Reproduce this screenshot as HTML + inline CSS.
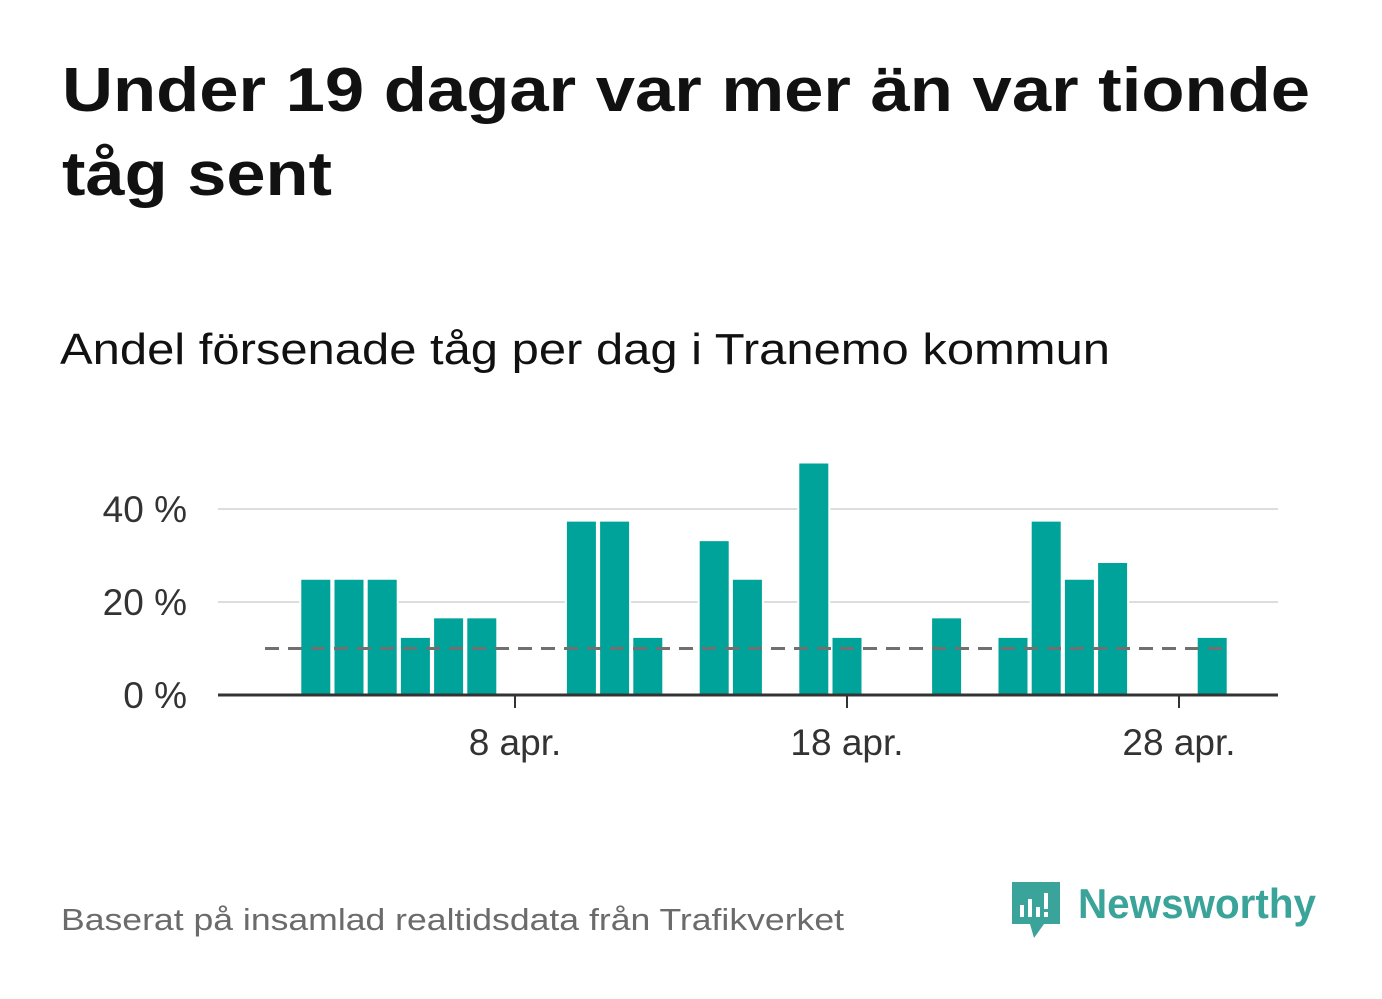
<!DOCTYPE html>
<html><head><meta charset="utf-8"><style>
html,body{margin:0;padding:0;background:#fff;}
svg{display:block;font-family:"Liberation Sans","DejaVu Sans",sans-serif;}
</style></head><body>
<svg id="chart" width="1382" height="999" viewBox="0 0 1382 999">
<text x="62" y="111" font-size="62" font-weight="bold" fill="#111" textLength="1248" lengthAdjust="spacingAndGlyphs">Under 19 dagar var mer än var tionde</text>
<text x="62" y="195" font-size="62" font-weight="bold" fill="#111" textLength="270" lengthAdjust="spacingAndGlyphs">tåg sent</text>
<text x="60" y="364" font-size="44" fill="#111" textLength="1050" lengthAdjust="spacingAndGlyphs">Andel försenade tåg per dag i Tranemo kommun</text>
<g id="grid"></g>
<g id="bars"></g>
<g id="axis"></g>
<text x="61" y="930" font-size="31" fill="#6b6b6b" textLength="783" lengthAdjust="spacingAndGlyphs">Baserat på insamlad realtidsdata från Trafikverket</text>
<g>
<path d="M1012 882 h48 v42 h-16 l-10 14 l-4 -14 h-18 z" fill="#3aa39a"/>
<rect x="1020" y="905" width="4" height="12" fill="#fff"/>
<rect x="1028" y="899" width="4" height="18" fill="#fff"/>
<rect x="1036" y="907" width="4" height="10" fill="#fff"/>
<rect x="1044" y="893" width="4" height="16" fill="#fff"/>
<rect x="1044" y="912" width="4" height="5" fill="#fff"/>
<text x="1078" y="918" font-size="42" font-weight="bold" fill="#3aa39a" textLength="238" lengthAdjust="spacingAndGlyphs">Newsworthy</text>
</g>
</svg>
<script>
const days = [2,3,4,5,6,7,10,11,12,14,15,17,18,21,23,24,25,26,29];
const values = [25,25,25,12.5,16.7,16.7,37.5,37.5,12.5,33.3,25,50,12.5,16.7,12.5,37.5,25,28.6,12.5];
const yTicks = [0,20,40];
const yTickLabels = ["0 %","20 %","40 %"];
const xTicks = [8,18,28];
const xTickLabels = ["8 apr.","18 apr.","28 apr."];
const threshold = 10;
const ns = "http://www.w3.org/2000/svg";
const X = d => 515 + (d - 8) * 33.2;
const Y = v => 695 - v * 4.65;
function mk(tag, attrs, parent){const e=document.createElementNS(ns,tag);for(const k in attrs)e.setAttribute(k,attrs[k]);parent.appendChild(e);return e;}
const grid=document.getElementById('grid'), bars=document.getElementById('bars'), axis=document.getElementById('axis');
yTicks.forEach((t,i)=>{
  if(t>0){const l=mk('line',{x1:218,x2:1278,y1:Y(t),y2:Y(t),stroke:'#ddd','stroke-width':2},grid);
  
  }
  const tx=mk('text',{x:187,y:Y(t)+13,'font-size':37,fill:'#333','text-anchor':'end'},axis);
  tx.textContent=yTickLabels[i];
  
  
});
days.forEach((d,i)=>{
  const r=mk('rect',{x:X(d)-15.5,y:Y(values[i]),width:31,height:695-Y(values[i]),fill:'#00a399',stroke:'#fff','stroke-width':2},bars);
  
  
});
const th=mk('line',{x1:265,x2:1228,y1:Y(threshold),y2:Y(threshold),stroke:'#707070','stroke-width':3,'stroke-dasharray':'14 9'},axis);


const base=mk('line',{x1:218,x2:1278,y1:695,y2:695,stroke:'#333','stroke-width':3},axis);


xTicks.forEach((d,i)=>{
  const tk=mk('line',{x1:X(d),x2:X(d),y1:695,y2:708,stroke:'#333','stroke-width':2},axis);
  
  
  const tx=mk('text',{x:X(d),y:755,'font-size':37,fill:'#333','text-anchor':'middle'},axis);
  tx.textContent=xTickLabels[i];
  
  
});
</script>
</body></html>
